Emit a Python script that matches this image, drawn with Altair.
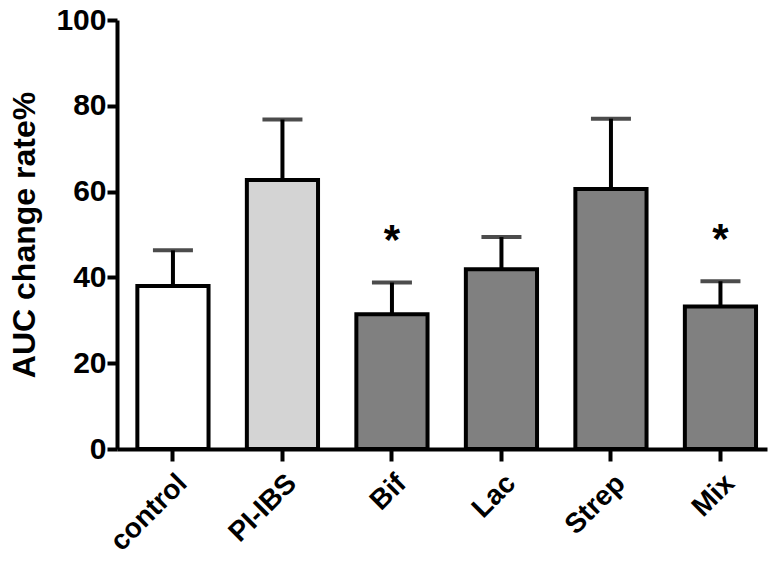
import altair as alt
import pandas as pd

groups = ["control", "PI-IBS", "Bif", "Lac", "Strep", "Mix"]
means = [38.0, 62.7, 31.4, 41.9, 60.6, 33.2]
upper = [46.3, 76.8, 38.8, 49.4, 77.0, 39.1]
fills = ["#ffffff", "#d4d4d4", "#808080", "#808080", "#808080", "#808080"]
stars = ["", "", "*", "", "", "*"]

df = pd.DataFrame({"group": groups, "mean": means, "upper": upper,
                   "fill": fills, "star": stars})
df["star_y"] = df["upper"] + 14

FONT = "Liberation Sans"
xscale = alt.Scale(paddingInner=0.35, paddingOuter=0.143, align=0.65)
x = alt.X("group:N", sort=groups, title=None, scale=xscale)
yscale = alt.Scale(domain=[0, 100], nice=False)

bars = alt.Chart(df).mark_bar(stroke="black", strokeWidth=4).encode(
    x=x,
    y=alt.Y("mean:Q", scale=yscale, title="AUC change rate%",
            axis=alt.Axis(values=[0, 20, 40, 60, 80, 100])),
    fill=alt.Fill("fill:N", scale=None),
)

stems = alt.Chart(df).mark_rule(color="black", strokeWidth=4).encode(
    x=x, y=alt.Y("mean:Q"), y2="upper:Q")

caps = alt.Chart(df).mark_tick(color="black", thickness=4, size=40).encode(
    x=x, y=alt.Y("upper:Q"))

star_text = alt.Chart(df).mark_text(fontSize=42, fontWeight="bold", font=FONT,
                                    color="black", baseline="middle", dy=19).encode(
    x=x, y=alt.Y("star_y:Q"), text="star:N")

chart = alt.layer(bars, stems, caps, star_text).properties(
    width=650, height=429,
    autosize=alt.AutoSizeParams(type="none"),
    padding={"left": 109, "top": 12, "right": 2, "bottom": 109},
).configure_view(stroke=None).configure_axis(
    grid=False, labelFont=FONT, labelFontWeight="bold",
    labelColor="black", titleFont=FONT, titleFontSize=32, titleFontWeight="bold",
    titleColor="black", domainColor="black", domainWidth=4,
    tickColor="black", tickWidth=4,
).configure_axisX(
    labelAngle=-45, labelAlign="right", labelBaseline="top", labelPadding=8,
    labelFontSize=28, tickSize=12,
).configure_axisY(
    labelFontSize=30, labelPadding=1, titlePadding=14, tickSize=10,
)

chart.save("out.html", embed_options={"renderer": "svg", "actions": False})
